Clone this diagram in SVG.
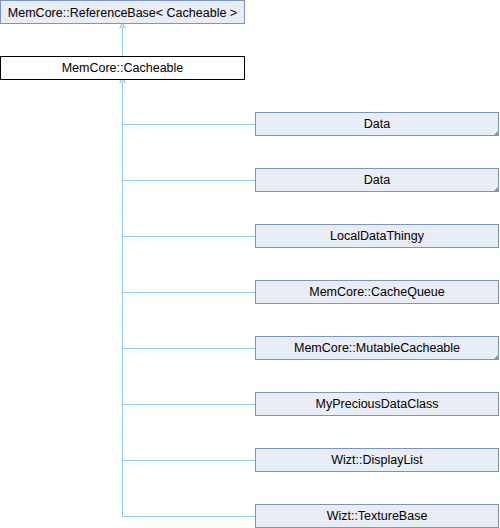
<svg xmlns="http://www.w3.org/2000/svg" width="500" height="528" viewBox="0 0 500 528">
<defs>
<style>
.n{fill:#e8ecf5;stroke:#7a93c9;stroke-width:1}
.c{fill:#ffffff;stroke:#000000;stroke-width:1}
.t{font-family:"Liberation Sans",Arial,sans-serif;font-size:12.5px;fill:#000;text-anchor:middle}
.e{fill:none;stroke:#8fcbea;stroke-width:1}
.m{fill:#7a93c9}
</style>
<marker id="ah" markerWidth="8" markerHeight="8" refX="4" refY="0" orient="auto" markerUnits="userSpaceOnUse" viewBox="0 -4 8 8">
<path d="M0,-3 L5,0 L0,3 Z" fill="#d4ebf8" stroke="#8fcbea" stroke-width="1"/>
</marker>
</defs>
<rect width="500" height="528" fill="#fff"/>
<g id="edges">
<path class="e" d="M122.5,56 V24"/>
<path class="e" d="M122.5,516 V80"/>
<path class="e" d="M122.5,80 V79" marker-end="url(#ah)"/>
<path class="e" d="M122.5,24.5 V24" marker-end="url(#ah)"/>
<path class="e" d="M122.5,124.5 H255"/>
<path class="e" d="M122.5,180.5 H255"/>
<path class="e" d="M122.5,236.5 H255"/>
<path class="e" d="M122.5,292.5 H255"/>
<path class="e" d="M122.5,348.5 H255"/>
<path class="e" d="M122.5,404.5 H255"/>
<path class="e" d="M122.5,460.5 H255"/>
<path class="e" d="M122.5,516.5 H255"/>
</g>
<g id="refbase"><rect class="n" x="0.5" y="0.5" width="244" height="23"/><text class="t" x="122.5" y="16.5">MemCore::ReferenceBase&lt; Cacheable &gt;</text></g>
<g id="cacheable"><rect class="c" x="0.5" y="56.5" width="244" height="23"/><text class="t" x="122.5" y="72">MemCore::Cacheable</text></g>
<g id="data1"><rect class="n" x="255.5" y="112.5" width="243" height="23"/><path class="m" d="M499,130 V136 H493 Z"/><text class="t" x="377" y="127.5">Data</text></g>
<g id="data2"><rect class="n" x="255.5" y="168.5" width="243" height="23"/><path class="m" d="M499,186 V192 H493 Z"/><text class="t" x="377" y="183.5">Data</text></g>
<g id="localdatathingy"><rect class="n" x="255.5" y="224.5" width="243" height="23"/><text class="t" x="377" y="239.5">LocalDataThingy</text></g>
<g id="cachequeue"><rect class="n" x="255.5" y="280.5" width="243" height="23"/><text class="t" x="377" y="295.5">MemCore::CacheQueue</text></g>
<g id="mutablecacheable"><rect class="n" x="255.5" y="336.5" width="243" height="23"/><path class="m" d="M499,354 V360 H493 Z"/><text class="t" x="377" y="351.5">MemCore::MutableCacheable</text></g>
<g id="mypreciousdataclass"><rect class="n" x="255.5" y="392.5" width="243" height="23"/><text class="t" x="377" y="407.5">MyPreciousDataClass</text></g>
<g id="displaylist"><rect class="n" x="255.5" y="448.5" width="243" height="23"/><text class="t" x="377" y="463.5">Wizt::DisplayList</text></g>
<g id="texturebase"><rect class="n" x="255.5" y="504.5" width="243" height="23"/><text class="t" x="377" y="519.5">Wizt::TextureBase</text></g>
</svg>
